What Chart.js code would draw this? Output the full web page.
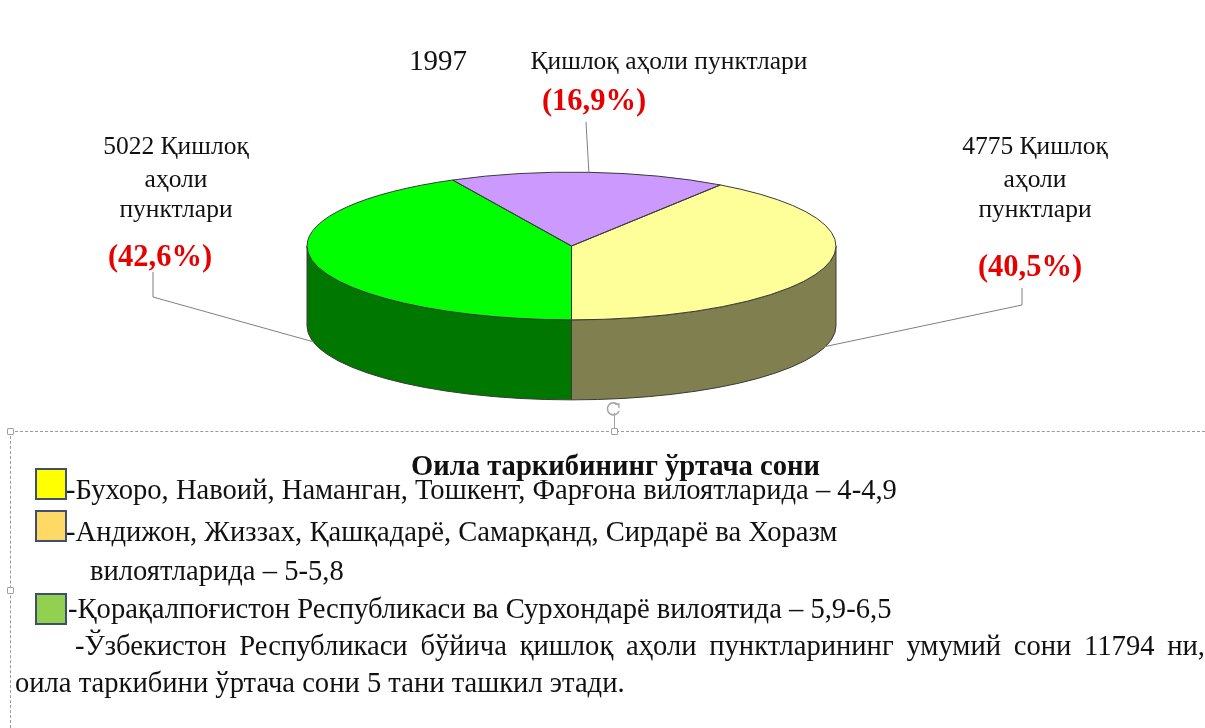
<!DOCTYPE html>
<html><head><meta charset="utf-8">
<script src="https://cdn.jsdelivr.net/npm/chart.js@4.4.1/dist/chart.umd.min.js"></script>
<style>
html,body{margin:0;padding:0;background:#fff;}
#wrap{position:relative;width:1205px;height:728px;overflow:hidden;font-family:"Liberation Serif","Times New Roman",serif;color:#111;}
#c{position:absolute;left:0;top:0;}
.t{position:absolute;white-space:nowrap;font-size:28.6px;line-height:30px;height:30px;}
.box{position:absolute;width:28px;height:28px;border:2px solid #3E4F70;}
.dash-h{position:absolute;height:0;border-top:1px dashed #9a9a9a;}
.dash-v{position:absolute;width:0;border-left:1px dashed #9a9a9a;}
.hd{position:absolute;width:5px;height:5px;border:1px solid #a0a0a0;background:#fff;border-radius:1px;}
.just{text-align:justify;text-align-last:justify;}
</style></head>
<body>
<div id="wrap">
<canvas id="c" width="1205" height="728"></canvas>
<div class="dash-h" style="left:10px;top:431px;width:1195px;"></div>
<div class="dash-v" style="left:10px;top:431px;height:297px;"></div>
<div class="hd" style="left:7px;top:428px;"></div>
<div class="hd" style="left:611px;top:428px;"></div>
<div class="hd" style="left:7px;top:587px;"></div>
<div style="position:absolute;left:614px;top:413px;width:1px;height:16px;background:#a0a0a0;"></div>
<svg style="position:absolute;left:605px;top:400px;" width="18" height="18" viewBox="0 0 18 18"><path d="M13 5 A6 6 0 1 0 14 11" fill="none" stroke="#a8a8a8" stroke-width="1.6"/><path d="M10 4 L14 4 L14 8" fill="none" stroke="#a8a8a8" stroke-width="1.4"/></svg>
<div id="legendArea"></div>
</div>
<script>
// ---- data ----
const sliceNames = ['Қишлоқ аҳоли пунктлари', 'Қишлоқ аҳоли пунктлари', 'Қишлоқ аҳоли пунктлари'];
const sliceCounts = [4775, 5022, 1997];
const slicePercents = ['(40,5%)', '(42,6%)', '(16,9%)'];
const topColors = ['#FFFF99', '#00FF00', '#CC99FF'];
const sideColors = ['#807F4F', '#007800', '#7A5C99'];
const legendTitle = 'Оила таркибининг ўртача сони';
const legendColors = ['#FFFF00', '#FFD966', '#92D050'];
const legendTexts = [
  '-Бухоро, Навоий, Наманган, Тошкент, Фарғона вилоятларида – 4-4,9',
  '-Андижон, Жиззах, Қашқадарё, Самарқанд, Сирдарё ва Хоразм',
  '-Қорақалпоғистон Республикаси ва Сурхондарё вилоятида – 5,9-6,5'
];
const legendContinuation = 'вилоятларида – 5-5,8';
const summaryLines = [
  '-Ўзбекистон Республикаси бўйича қишлоқ аҳоли пунктларининг умумий сони 11794 ни,',
  'оила таркибини ўртача сони 5 тани ташкил этади.'
];

// ---- text block below chart ----
const la = document.getElementById('legendArea');
function addDiv(cls, style, text, bold){
  const d = document.createElement('div');
  d.className = cls; d.setAttribute('style', style);
  if (text !== undefined) d.textContent = text;
  if (bold) d.style.fontWeight = 'bold';
  la.appendChild(d); return d;
}
addDiv('t', 'left:411px;top:451px;font-size:28.6px;', legendTitle, true);
addDiv('box', 'left:35px;top:468px;background:' + legendColors[0]);
addDiv('box', 'left:35px;top:510px;background:' + legendColors[1]);
addDiv('box', 'left:35px;top:593px;background:' + legendColors[2]);
addDiv('t', 'left:66px;top:475px;', legendTexts[0]);
addDiv('t', 'left:66px;top:517px;', legendTexts[1]);
addDiv('t', 'left:90px;top:556px;', legendContinuation);
addDiv('t', 'left:68px;top:594px;', legendTexts[2]);
addDiv('t just', 'left:75px;top:631px;width:1130px;', summaryLines[0]);
addDiv('t', 'left:15px;top:668px;', summaryLines[1]);

// ---- 3D pie geometry ----
const K = 74 / 265;      // vertical squash
const DEPTH = 80;        // side thickness
const CY = 246;          // screen y of pie centre
const TAU = Math.PI * 2;

const total = sliceCounts.reduce((a, b) => a + b, 0);
const startRotation = 180 - 360 * sliceCounts[0] / total;

const pie3d = {
  id: 'pie3d',
  beforeDatasetsDraw(chart) {
    const ctx = chart.ctx;
    const meta = chart.getDatasetMeta(0);
    const a0 = meta.data[0];
    const cx = a0.x, cy = a0.y, r = a0.outerRadius, ry = r * K;
    meta.data.forEach((arc, i) => {
      let s = arc.startAngle, e = arc.endAngle;
      const off = Math.floor(s / TAU) * TAU; s -= off; e -= off;
      [[0, Math.PI], [TAU, TAU + Math.PI]].forEach(([lo, hi]) => {
        const a1 = Math.max(s, lo), a2 = Math.min(e, hi);
        if (a2 > a1) {
          ctx.beginPath();
          ctx.ellipse(cx, CY, r, ry, 0, a1, a2, false);
          ctx.lineTo(cx + r * Math.cos(a2), CY + ry * Math.sin(a2) + DEPTH);
          ctx.ellipse(cx, CY + DEPTH, r, ry, 0, a2, a1, true);
          ctx.closePath();
          ctx.fillStyle = sideColors[i];
          ctx.fill();
          ctx.lineWidth = 1; ctx.strokeStyle = '#3a3a3a';
          ctx.stroke();
        }
      });
    });
    ctx.save();
    ctx.translate(0, CY);
    ctx.scale(1, K);
    ctx.translate(0, -cy);
  },
  afterDatasetsDraw(chart) {
    const ctx = chart.ctx;
    ctx.restore();
    const meta = chart.getDatasetMeta(0);
    meta.data.forEach((arc) => {
      const cx = arc.x, r = arc.outerRadius, ry = r * K;
      ctx.beginPath();
      ctx.moveTo(cx, CY);
      ctx.lineTo(cx + r * Math.cos(arc.startAngle), CY + ry * Math.sin(arc.startAngle));
      ctx.ellipse(cx, CY, r, ry, 0, arc.startAngle, arc.endAngle, false);
      ctx.closePath();
      ctx.lineWidth = 1; ctx.strokeStyle = '#3a3a3a';
      ctx.stroke();
    });
  }
};

// label layout (positions only)
const labelLayout = [
  { anchor: 'bottom', elbow: [[1022, 288], [1022, 305]], nameX: 1035, nameLines: [147, 180, 210], countInline: true, pctX: 1030, pctY: 268 },
  { anchor: 'bottom', elbow: [[153, 272], [153, 297]], nameX: 176, nameLines: [147, 180, 210], countInline: true, pctX: 160, pctY: 258 },
  { anchor: 'top', elbow: [[586, 122]], countX: 409, countY: 62, nameX: 669, nameY: 62, pctX: 594, pctY: 102 }
];

const pieLabels = {
  id: 'pieLabels',
  afterDraw(chart) {
    const ctx = chart.ctx;
    const meta = chart.getDatasetMeta(0);
    ctx.save();
    meta.data.forEach((arc, i) => {
      const L = labelLayout[i];
      const cx = arc.x, r = arc.outerRadius, ry = r * K;
      const m = (arc.startAngle + arc.endAngle) / 2;
      const ax = cx + r * Math.cos(m);
      const ay = CY + ry * Math.sin(m) + (L.anchor === 'bottom' ? DEPTH - 1 : 0);
      ctx.beginPath();
      ctx.moveTo(L.elbow[0][0], L.elbow[0][1]);
      for (let k = 1; k < L.elbow.length; k++) ctx.lineTo(L.elbow[k][0], L.elbow[k][1]);
      ctx.lineTo(ax, ay);
      ctx.strokeStyle = '#7f7f7f'; ctx.lineWidth = 1;
      ctx.stroke();

      ctx.fillStyle = '#111';
      ctx.textBaseline = 'middle';
      ctx.textAlign = 'center';
      if (L.countInline) {
        const words = sliceNames[i].split(' ');
        ctx.font = '25.5px "Liberation Serif", serif';
        ctx.fillText(sliceCounts[i] + ' ' + words[0], L.nameX, L.nameLines[0]);
        ctx.fillText(words[1], L.nameX, L.nameLines[1]);
        ctx.fillText(words[2], L.nameX, L.nameLines[2]);
      } else {
        ctx.font = '29px "Liberation Serif", serif';
        ctx.textAlign = 'left';
        ctx.fillText(String(sliceCounts[i]), L.countX, L.countY);
        ctx.font = '25.5px "Liberation Serif", serif';
        ctx.textAlign = 'center';
        ctx.fillText(sliceNames[i], L.nameX, L.nameY);
      }
      ctx.font = 'bold 30.5px "Liberation Serif", serif';
      ctx.fillStyle = '#E60000';
      ctx.textAlign = 'center';
      ctx.fillText(slicePercents[i], L.pctX, L.pctY);
    });
    ctx.restore();
  }
};

new Chart(document.getElementById('c'), {
  type: 'pie',
  data: {
    labels: sliceNames,
    datasets: [{
      data: sliceCounts,
      backgroundColor: topColors,
      borderWidth: 0,
      clip: false
    }]
  },
  options: {
    responsive: false,
    devicePixelRatio: 1,
    animation: false,
    events: [],
    rotation: startRotation,
    layout: { padding: { left: 307, right: 369, top: 99, bottom: 100 } },
    plugins: { legend: { display: false }, tooltip: { enabled: false } }
  },
  plugins: [pie3d, pieLabels]
});
</script>
</body></html>
